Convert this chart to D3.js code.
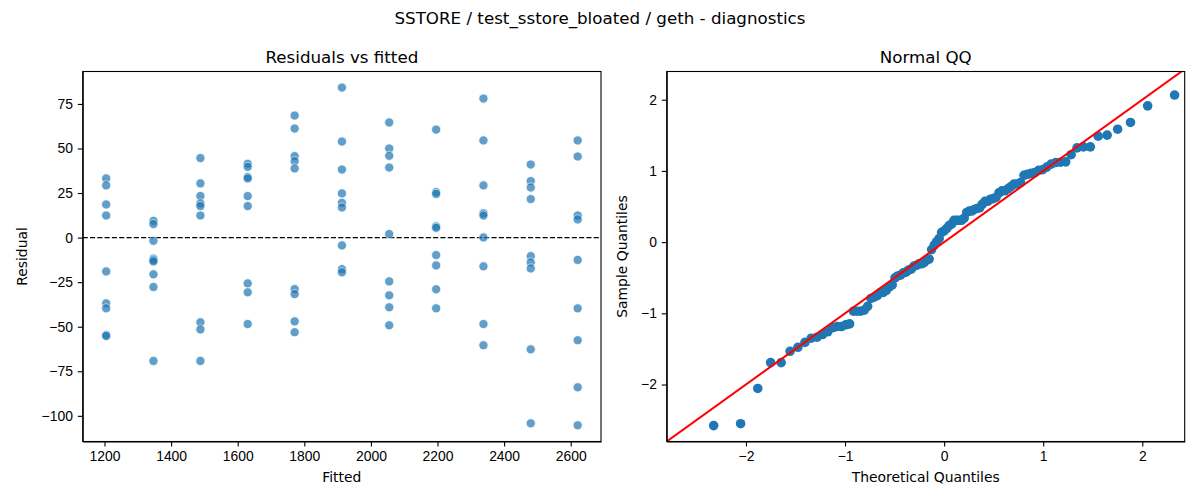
<!DOCTYPE html>
<html>
<head>
<meta charset="utf-8">
<script src="https://cdn.jsdelivr.net/npm/d3@7"></script>
<style>
  body { margin: 0; background: #fff; }
  svg { font-family: "DejaVu Sans", sans-serif; }
  .axis path, .axis line { stroke: #000; stroke-width: 1.1; }
  .axis text { font-size: 13.9px; fill: #000; }
</style>
</head>
<body>
<script>
// fitted value levels (x positions of the columns in the left panel)
var fitted = [1205, 1347, 1488, 1630, 1771, 1913, 2055, 2196, 2338, 2480, 2621];

// residuals, one list per fitted level
var residuals = [
    [33.2, 29.3, 18.6, 12.4, -19.0, -36.9, -39.7, -54.6, -55.2],
    [9.4, 7.6, -1.8, -11.8, -12.6, -13.4, -20.6, -27.7, -69.2],
    [44.6, 30.4, 23.3, 19.2, 17.7, 12.4, -47.5, -51.5, -69.2],
    [41.4, 39.7, 34.0, 33.2, 23.3, 17.7, -25.7, -30.7, -48.5],
    [68.5, 61.2, 45.7, 42.9, 38.8, -28.9, -31.7, -47.0, -53.1],
    [84.2, 53.9, 38.2, 24.8, 19.5, 16.9, -4.4, -17.7, -19.5],
    [64.6, 50.0, 45.9, 39.3, 2.0, -24.6, -32.4, -39.1, -49.2],
    [60.6, 25.5, 24.5, 6.3, 5.5, -9.8, -15.6, -29.0, -39.7],
    [78.0, 54.5, 29.3, 13.6, 12.4, 0.1, -16.1, -48.5, -60.4],
    [41.0, 31.7, 28.1, 21.6, -10.4, -13.9, -17.3, -62.7, -104.2],
    [54.5, 45.5, 12.4, 10.2, -12.5, -39.7, -57.6, -84.0, -105.3]
];

// theoretical normal quantiles for the 99 sorted residuals
var theoretical = [
    -2.326, -2.054, -1.881, -1.751, -1.645, -1.555, -1.476, -1.405, -1.341, -1.282,
    -1.227, -1.175, -1.126, -1.080, -1.036, -0.994, -0.954, -0.915, -0.878, -0.842,
    -0.806, -0.772, -0.739, -0.706, -0.674, -0.643, -0.613, -0.583, -0.553, -0.524,
    -0.496, -0.468, -0.440, -0.412, -0.385, -0.358, -0.332, -0.305, -0.279, -0.253,
    -0.228, -0.202, -0.176, -0.151, -0.126, -0.100, -0.075, -0.050, -0.025, 0.000,
    0.025, 0.050, 0.075, 0.100, 0.126, 0.151, 0.176, 0.202, 0.228, 0.253,
    0.279, 0.305, 0.332, 0.358, 0.385, 0.412, 0.440, 0.468, 0.496, 0.524,
    0.553, 0.583, 0.613, 0.643, 0.674, 0.706, 0.739, 0.772, 0.806, 0.842,
    0.878, 0.915, 0.954, 0.994, 1.036, 1.080, 1.126, 1.175, 1.227, 1.282,
    1.341, 1.405, 1.476, 1.555, 1.645, 1.751, 1.881, 2.054, 2.326
];

var fittedTicks = [1200, 1400, 1600, 1800, 2000, 2200, 2400, 2600];
var residualTicks = [-100, -75, -50, -25, 0, 25, 50, 75];
var qqTicks = [-2, -1, 0, 1, 2];

var title = "SSTORE / test_sstore_bloated / geth - diagnostics";

function fmt(d) { return String(d).replace("-", "\u2212"); }

function init() {
    var w = 1200, h = 500;
    var svg = d3.select("body").append("svg").attr("width", w).attr("height", h);

    var top = 71.5, bottom = 441.5;
    var left1 = 82.7, right1 = 601, left2 = 666.7, right2 = 1184.7;

    svg.append("text")
        .attr("x", 600).attr("y", 24)
        .attr("text-anchor", "middle")
        .style("font-size", "16.7px")
        .text(title);

    // ---- left panel: residuals vs fitted
    var xScale = d3.scaleLinear().domain([1134.5, 2691]).range([left1, right1]);
    var yScale = d3.scaleLinear().domain([-114.4, 93.2]).range([bottom, top]);

    var points = [];
    fitted.forEach(function(f, i) {
        residuals[i].forEach(function(r) { points.push({ x: f, y: r }); });
    });

    var g1 = svg.append("g");
    g1.append("line")
        .attr("x1", left1).attr("x2", right1)
        .attr("y1", yScale(0)).attr("y2", yScale(0))
        .attr("stroke", "#000").attr("stroke-width", 1.4)
        .attr("stroke-dasharray", "5.1,2.2");

    g1.selectAll("circle")
        .data(points)
        .enter()
        .append("circle")
        .attr("cx", function(d) { return xScale(d.x); })
        .attr("cy", function(d) { return yScale(d.y); })
        .attr("r", 4.6)
        .attr("fill", "#1f77b4")
        .attr("stroke", "#fff")
        .attr("stroke-width", 0.8)
        .attr("opacity", 0.7);

    svg.append("g").attr("class", "axis")
        .attr("transform", "translate(0," + bottom + ")")
        .call(d3.axisBottom(xScale).tickValues(fittedTicks).tickFormat(fmt).tickSize(4.9).tickPadding(4.9).tickSizeOuter(0));
    svg.append("g").attr("class", "axis")
        .attr("transform", "translate(" + left1 + ",0)")
        .call(d3.axisLeft(yScale).tickValues(residualTicks).tickFormat(fmt).tickSize(4.9).tickPadding(4.9).tickSizeOuter(0));

    svg.append("rect")
        .attr("x", left1).attr("y", top)
        .attr("width", right1 - left1).attr("height", bottom - top)
        .attr("fill", "none").attr("stroke", "#000").attr("stroke-width", 1.1);

    svg.append("text")
        .attr("x", (left1 + right1) / 2).attr("y", 62.5)
        .attr("text-anchor", "middle").style("font-size", "16.7px")
        .text("Residuals vs fitted");
    svg.append("text")
        .attr("x", (left1 + right1) / 2).attr("y", 482)
        .attr("text-anchor", "middle").style("font-size", "13.9px")
        .text("Fitted");
    svg.append("text")
        .attr("transform", "translate(27," + ((top + bottom) / 2) + ") rotate(-90)")
        .attr("text-anchor", "middle").style("font-size", "13.9px")
        .text("Residual");

    // ---- right panel: normal QQ
    var all = points.map(function(d) { return d.y; }).sort(d3.ascending);
    var mu = d3.mean(all);
    var sd = Math.sqrt(d3.mean(all, function(v) { return (v - mu) * (v - mu); }));
    var sample = all.map(function(v) { return (v - mu) / sd; });

    var qx = d3.scaleLinear().domain([-2.80, 2.428]).range([left2, right2]);
    var qy = d3.scaleLinear().domain([-2.80, 2.396]).range([bottom, top]);

    svg.append("defs").append("clipPath").attr("id", "clipqq")
        .append("rect")
        .attr("x", left2).attr("y", top)
        .attr("width", right2 - left2).attr("height", bottom - top);

    var g2 = svg.append("g").attr("clip-path", "url(#clipqq)");
    g2.selectAll("circle")
        .data(sample)
        .enter()
        .append("circle")
        .attr("cx", function(d, i) { return qx(theoretical[i]); })
        .attr("cy", function(d) { return qy(d); })
        .attr("r", 4.8)
        .attr("fill", "#1f77b4");

    // 45 degree reference line
    var lineEnds = [-3, 3];
    g2.append("line")
        .attr("x1", qx(lineEnds[0])).attr("y1", qy(lineEnds[0]))
        .attr("x2", qx(lineEnds[1])).attr("y2", qy(lineEnds[1]))
        .attr("stroke", "red").attr("stroke-width", 2.0);

    svg.append("g").attr("class", "axis")
        .attr("transform", "translate(0," + bottom + ")")
        .call(d3.axisBottom(qx).tickValues(qqTicks).tickFormat(fmt).tickSize(4.9).tickPadding(4.9).tickSizeOuter(0));
    svg.append("g").attr("class", "axis")
        .attr("transform", "translate(" + left2 + ",0)")
        .call(d3.axisLeft(qy).tickValues(qqTicks).tickFormat(fmt).tickSize(4.9).tickPadding(4.9).tickSizeOuter(0));

    svg.append("rect")
        .attr("x", left2).attr("y", top)
        .attr("width", right2 - left2).attr("height", bottom - top)
        .attr("fill", "none").attr("stroke", "#000").attr("stroke-width", 1.1);

    svg.append("text")
        .attr("x", (left2 + right2) / 2).attr("y", 62.5)
        .attr("text-anchor", "middle").style("font-size", "16.7px")
        .text("Normal QQ");
    svg.append("text")
        .attr("x", (left2 + right2) / 2).attr("y", 482)
        .attr("text-anchor", "middle").style("font-size", "13.9px")
        .text("Theoretical Quantiles");
    svg.append("text")
        .attr("transform", "translate(627," + ((top + bottom) / 2) + ") rotate(-90)")
        .attr("text-anchor", "middle").style("font-size", "13.9px")
        .text("Sample Quantiles");
}
window.onload = init;
</script>
</body>
</html>
